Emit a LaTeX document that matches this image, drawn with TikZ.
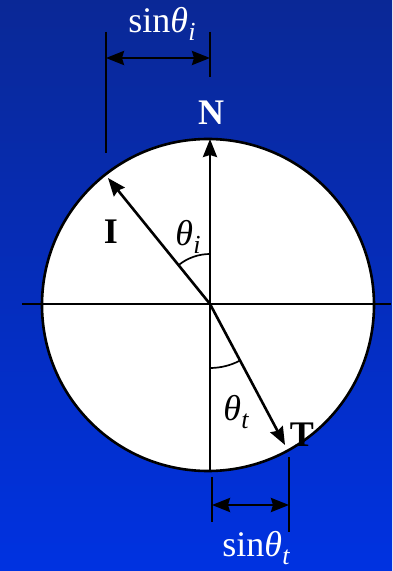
\documentclass[tikz,border=0pt]{standalone}
\usepackage{fontspec}
\setmainfont{Liberation Serif}
\usetikzlibrary{arrows.meta}
\newcommand{\thsub}[1]{{\itshape θ\kern0.5pt\raisebox{-0.5ex}{\fontsize{26}{26}\selectfont #1}}}
\begin{document}
\begin{tikzpicture}[x=1pt,y=1pt,
  ln/.style={line width=2.5pt,black},
  ray/.style={line width=2.6pt,black,-{Stealth[length=18pt,width=14pt,inset=2pt]}},
  dim/.style={line width=2.5pt,black,{Stealth[length=18pt,width=14pt,inset=2pt]}-{Stealth[length=18pt,width=14pt,inset=2pt]}},
  wlbl/.style={text=white,font=\fontsize{36}{38}\selectfont},
  blbl/.style={text=black,font=\fontsize{36}{38}\selectfont},
  ang/.style={line width=1.7pt,black}]
\shade[top color={rgb,255:red,10;green,40;blue,150},bottom color={rgb,255:red,0;green,50;blue,225}] (0,0) rectangle (392,571);
\useasboundingbox (0,0) rectangle (392,571);
\node[circle,draw,fill=white,line width=2.6pt,minimum size=332pt,inner sep=0pt] (C) at (208,266) {};
\coordinate (O) at (210,267);
\coordinate (HL) at (22,267);
\coordinate (HR) at (391,267);
\coordinate (Bot) at (210,99);
\coordinate (Ntip) at (210,432);
\coordinate (Itip) at (108,393);
\coordinate (Ttip) at (285,126);
\draw[ln] (HL) -- (HR);
\draw[ln] (Bot) -- (O);
\draw[ray] (O) -- (Ntip);
\draw[ray] (O) -- (Itip);
\draw[ray] (O) -- (Ttip);
\draw[ang] ([shift={(90:50)}]O) arc[start angle=90,end angle=129,radius=50];
\draw[ang] ([shift={(270:64)}]O) arc[start angle=270,end angle=298,radius=64];
% dimension sin theta_i
\coordinate (a1) at (106,539); \coordinate (a2) at (106,418);
\coordinate (b1) at (210,539); \coordinate (b2) at (210,494);
\coordinate (da) at (106,513); \coordinate (db) at (210,513);
\draw[ln] (a1) -- (a2);
\draw[ln] (b1) -- (b2);
\draw[dim] (da) -- (db);
\node[wlbl] (si) at (162,547) {sin\thsub{i}};
% dimension sin theta_t
\coordinate (c1) at (212,94); \coordinate (c2) at (212,49);
\coordinate (d1) at (289,114); \coordinate (d2) at (289,39);
\coordinate (dc) at (212,66); \coordinate (dd) at (289,66);
\draw[ln] (c1) -- (c2);
\draw[ln] (d1) -- (d2);
\draw[dim] (dc) -- (dd);
\node[wlbl] (st) at (256,23) {sin\thsub{t}};
% labels
\node[wlbl,font=\fontsize{36}{38}\selectfont\bfseries] (N) at (211,458) {N};
\node[blbl,font=\fontsize{36}{38}\selectfont\bfseries] (I) at (111,339) {I};
\node[blbl,font=\fontsize{36}{38}\selectfont\bfseries] (T) at (302,136) {T};
\node[blbl] (thi) at (188,334) {\thsub{i}};
\node[blbl] (tht) at (236,159) {\thsub{t}};
\end{tikzpicture}
\end{document}
